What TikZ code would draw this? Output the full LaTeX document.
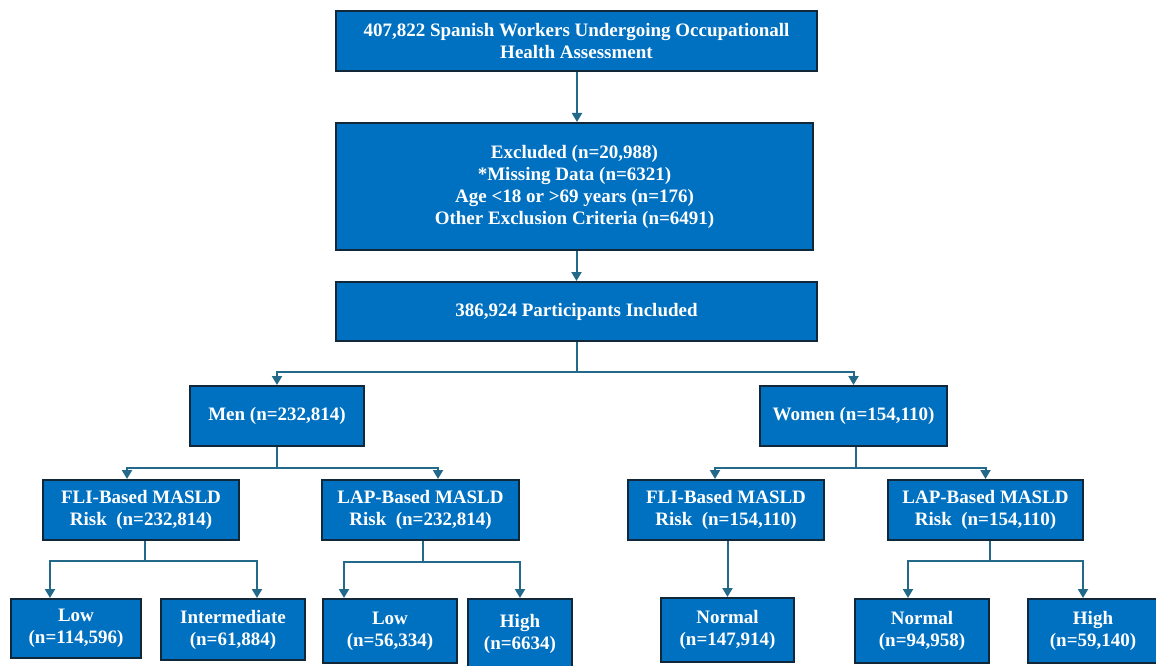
\documentclass[tikz,border=0pt]{standalone}
\usepackage{fontspec}
\setmainfont{Liberation Serif}
\usetikzlibrary{arrows.meta,calc}
\definecolor{boxfill}{HTML}{0070C0}
\definecolor{boxline}{HTML}{10283A}
\definecolor{connc}{HTML}{22698A}
\tikzset{
  fbox/.style={draw=boxline, fill=boxfill, line width=2pt, text=white,
    font=\fontsize{19}{22}\selectfont\bfseries, align=center, inner sep=0pt, anchor=center},
  conn/.style={draw=connc, line width=2pt},
  arr/.style={conn, -{Triangle[length=9pt,width=10pt]}}
}
\begin{document}
\begin{tikzpicture}[x=1pt,y=-1pt]
\useasboundingbox (0,0) rectangle (1156,666);
\begin{scope}
\clip (0,0) rectangle (1156,666);
\node[fbox, minimum width=481pt, minimum height=60pt] (top) at (576.5,41) {407,822 Spanish Workers Undergoing Occupationall\\Health Assessment};
\node[fbox, minimum width=477pt, minimum height=127pt] (excl) at (574.5,186.5) {Excluded (n=20,988)\\*Missing Data (n=6321)\\Age <18 or >69 years (n=176)\\Other Exclusion Criteria (n=6491)};
\node[fbox, minimum width=481pt, minimum height=59pt] (incl) at (576.5,311.5) {386,924 Participants Included};
\node[fbox, minimum width=174pt, minimum height=60pt] (men) at (277,416) {Men (n=232,814)};
\node[fbox, minimum width=187pt, minimum height=60pt] (women) at (853.5,416) {Women (n=154,110)};
\node[fbox, minimum width=196pt, minimum height=60pt] (flim) at (141,510) {FLI-Based MASLD\\Risk~~(n=232,814)};
\node[fbox, minimum width=197pt, minimum height=60pt] (lapm) at (420.5,510) {LAP-Based MASLD\\Risk~~(n=232,814)};
\node[fbox, minimum width=196pt, minimum height=60pt] (fliw) at (726,510) {FLI-Based MASLD\\Risk~~(n=154,110)};
\node[fbox, minimum width=195pt, minimum height=60pt] (lapw) at (985.5,510) {LAP-Based MASLD\\Risk~~(n=154,110)};
\node[fbox, minimum width=130pt, minimum height=59pt] (low1) at (76,628.5) {Low\\(n=114,596)};
\node[fbox, minimum width=144pt, minimum height=61pt] (inter) at (233,629.5) {Intermediate\\(n=61,884)};
\node[fbox, minimum width=134pt, minimum height=64pt] (low2) at (390,631) {Low\\(n=56,334)};
\node[fbox, minimum width=104pt, minimum height=70pt] (high1) at (520,634) {High\\(n=6634)};
\node[fbox, minimum width=133pt, minimum height=64pt] (norm1) at (727.5,630) {Normal\\(n=147,914)};
\node[fbox, minimum width=134pt, minimum height=64pt] (norm2) at (922,631) {Normal\\(n=94,958)};
\node[fbox, minimum width=130pt, minimum height=64pt] (high2) at (1093,631) {High\\(n=59,140)};
\end{scope}
% connectors
\draw[arr] ([xshift=0.5pt]top.south) -- ([xshift=0.5pt]top.south |- excl.north);
\draw[arr] (incl.north |- excl.south) -- (incl.north);
\draw[conn] (incl.south) -- ++(0,30) coordinate (j1);
\draw[arr] (j1) -| (men.north);
\draw[arr] (j1) -| (women.north);
\draw[conn] (men.south) -- ++(0,21) coordinate (j2);
\draw[arr] (j2) -| ([xshift=-14pt]flim.north);
\draw[arr] (j2) -| ([xshift=17.5pt]lapm.north);
\draw[conn] ([xshift=2.5pt]women.south) -- ++(0,21) coordinate (j3);
\draw[arr] (j3) -| ([xshift=-11pt]fliw.north);
\draw[arr] (j3) -| (lapw.north);
\draw[conn] ([xshift=4pt]flim.south) -- ++(0,20) coordinate (j4);
\draw[arr] (j4) -| ([xshift=-26pt]low1.north);
\draw[arr] (j4) -| ([xshift=24pt]inter.north);
\draw[conn] ([xshift=2.5pt]lapm.south) -- ++(0,21) coordinate (j5);
\draw[arr] (j5) -| ([xshift=-46pt]low2.north);
\draw[arr] (j5) -| (high1.north);
\draw[arr] (fliw.south -| norm1.north) -- (norm1.north);
\draw[conn] ([xshift=4.5pt]lapw.south) -- ++(0,20) coordinate (j6);
\draw[arr] (j6) -| ([xshift=-14pt]norm2.north);
\draw[arr] (j6) -| ([xshift=-10pt]high2.north);
\end{tikzpicture}
\end{document}
